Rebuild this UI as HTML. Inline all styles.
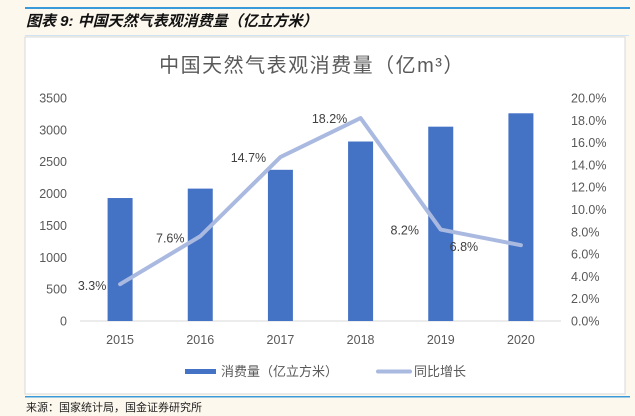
<!DOCTYPE html>
<html><head><meta charset="utf-8"><style>
body{margin:0;width:635px;height:416px;background:#fdf8ee;overflow:hidden;font-family:"Liberation Sans","Noto Sans CJK SC",sans-serif}
svg{position:absolute;left:0;top:0}
</style></head><body>
<svg width="635" height="416">
<rect x="25" y="7" width="605" height="2" fill="#3a9ad9"/>
<text x="26" y="26" font-size="15" font-weight="bold" font-style="italic" fill="#111" font-family="'Liberation Sans','Noto Sans CJK SC',sans-serif">图表 9:  中国天然气表观消费量（亿立方米）</text>
<rect x="25" y="35" width="604" height="1" fill="#cfe3f2"/>
<rect x="25" y="37" width="600" height="357" fill="#fff" stroke="#d8d8d8"/>
<text x="312" y="72" font-size="20" fill="#595959" text-anchor="middle" letter-spacing="1.5">中国天然气表观消费量（亿m³）</text>
<g id="plot"></g>
<g>
<rect x="185" y="369" width="31" height="5" fill="#4472c4"/>
<text x="221" y="376" font-size="13" fill="#595959">消费量（亿立方米）</text>
<line x1="378" y1="371.5" x2="410" y2="371.5" stroke="#a9b9e0" stroke-width="4" stroke-linecap="round"/>
<text x="414" y="376" font-size="13" fill="#595959">同比增长</text>
</g>
<rect x="25" y="396" width="605" height="1.5" fill="#3a9ad9"/>
<text x="26" y="411" font-size="11" fill="#222">来源：国家统计局，国金证券研究所</text>
</svg>
<script>
const categories=["2015","2016","2017","2018","2019","2020"];
const consumption=[1930,2078,2373,2817,3050,3260];
const growth=[3.3,7.6,14.7,18.2,8.2,6.8];
const growthLabels=["3.3%","7.6%","14.7%","18.2%","8.2%","6.8%"];
const leftTicks=[0,500,1000,1500,2000,2500,3000,3500];
const rightTicks=[0,2,4,6,8,10,12,14,16,18,20];
const NS="http://www.w3.org/2000/svg";
const g=document.getElementById('plot');
const y0=321,yTop=98,x0=80,x1=561;
const yL=v=>y0-(v/3500)*(y0-yTop);
const yR=v=>y0-(v/20)*(y0-yTop);
const step=(x1-x0)/categories.length;
const xC=i=>x0+step*(i+0.5);
function mk(tag,a,txt){const e=document.createElementNS(NS,tag);for(const k in a)e.setAttribute(k,a[k]);if(txt!=null)e.textContent=txt;g.appendChild(e);return e;}
leftTicks.forEach(t=>{const e=mk('text',{x:67,y:yL(t)+4.5,'font-size':12.5,fill:'#595959','text-anchor':'end'},String(t));

});
rightTicks.forEach(t=>{const e=mk('text',{x:571,y:yR(t)+4.5,'font-size':12.5,fill:'#595959'},t.toFixed(1)+'%');

});
const ax=mk('line',{x1:x0,y1:y0,x2:x1,y2:y0,stroke:'#d9d9d9'});


categories.forEach((c,i)=>{
const b=mk('rect',{x:xC(i)-12.5,y:yL(consumption[i]),width:25,height:y0-yL(consumption[i]),fill:'#4472c4'});


const t=mk('text',{x:xC(i),y:344,'font-size':12.5,fill:'#595959','text-anchor':'middle'},c);


});
const pts=growth.map((v,i)=>xC(i)+','+yR(v)).join(' ');
const pl=mk('polyline',{points:pts,fill:'none',stroke:'#a9b9e0','stroke-width':4,'stroke-linejoin':'round','stroke-linecap':'round'});


const offs=[[-28,6],[-30,6],[-32,5],[-31,5],[-36,5],[-57,6]];
growth.forEach((v,i)=>{
const t=mk('text',{x:xC(i)+offs[i][0],y:yR(v)+offs[i][1],'font-size':12.5,fill:'#404040','text-anchor':'middle'},growthLabels[i]);


});
</script>
</body></html>
